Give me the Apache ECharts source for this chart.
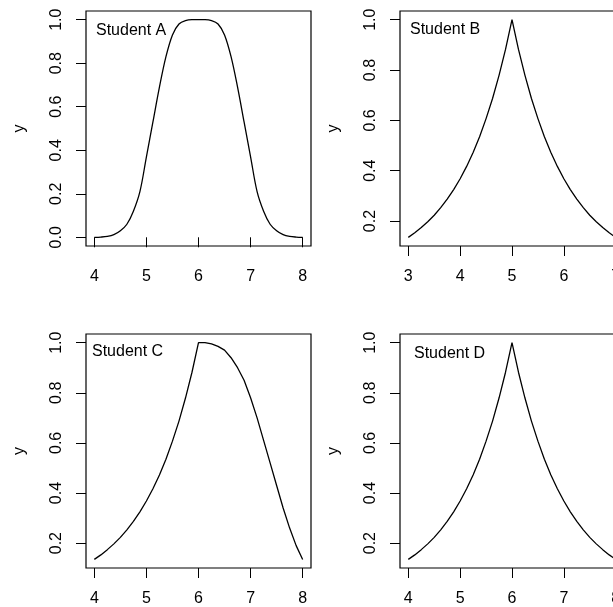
<!DOCTYPE html>
<html>
<head>
<meta charset="utf-8">
<script src="https://cdn.jsdelivr.net/npm/echarts@6/dist/echarts.min.js"></script>
<style>
  html, body { margin: 0; padding: 0; background: #fff; }
  #chart { width: 613px; height: 607px; }
</style>
</head>
<body>
<div id="chart"></div>
<script>
// sample positions
var xs48 = [4, 4.125, 4.25, 4.375, 4.5, 4.625, 4.75, 4.875, 5, 5.125, 5.25, 5.375, 5.5, 5.625, 5.75, 5.875,
  6, 6.125, 6.25, 6.375, 6.5, 6.625, 6.75, 6.875, 7, 7.125, 7.25, 7.375, 7.5, 7.625, 7.75, 7.875, 8]
var xs37 = [3, 3.125, 3.25, 3.375, 3.5, 3.625, 3.75, 3.875, 4, 4.125, 4.25, 4.375, 4.5, 4.625, 4.75, 4.875,
  5, 5.125, 5.25, 5.375, 5.5, 5.625, 5.75, 5.875, 6, 6.125, 6.25, 6.375, 6.5, 6.625, 6.75, 6.875, 7]

var studentA = [0, 0.001, 0.004, 0.012, 0.03, 0.06, 0.12, 0.21, 0.37, 0.53, 0.69, 0.83, 0.93, 0.98, 0.996, 1.0,
  1.0, 1.0, 0.996, 0.98, 0.93, 0.83, 0.69, 0.53, 0.37, 0.21, 0.12, 0.06, 0.03, 0.012, 0.004, 0.001, 0]
var studentB = [0.135, 0.153, 0.174, 0.197, 0.223, 0.253, 0.287, 0.325, 0.368, 0.417, 0.472, 0.535, 0.607, 0.687, 0.779, 0.882,
  1.0, 0.882, 0.779, 0.687, 0.607, 0.535, 0.472, 0.417, 0.368, 0.325, 0.287, 0.253, 0.223, 0.197, 0.174, 0.153, 0.135]
var studentC = [0.135, 0.153, 0.174, 0.197, 0.223, 0.253, 0.287, 0.325, 0.368, 0.417, 0.472, 0.535, 0.607, 0.687, 0.779, 0.882,
  1.0, 1.0, 0.995, 0.985, 0.97, 0.94, 0.9, 0.85, 0.78, 0.7, 0.61, 0.52, 0.43, 0.34, 0.26, 0.19, 0.135]
var studentD = [0.135, 0.153, 0.174, 0.197, 0.223, 0.253, 0.287, 0.325, 0.368, 0.417, 0.472, 0.535, 0.607, 0.687, 0.779, 0.882,
  1.0, 0.882, 0.779, 0.687, 0.607, 0.535, 0.472, 0.417, 0.368, 0.325, 0.287, 0.253, 0.223, 0.197, 0.174, 0.153, 0.135]

var ticks48 = [4, 5, 6, 7, 8]
var ticks37 = [3, 4, 5, 6, 7]
var yTicksA = [0, 0.2, 0.4, 0.6, 0.8, 1.0]
var yTicks = [0.2, 0.4, 0.6, 0.8, 1.0]
var names = ['Student A', 'Student B', 'Student C', 'Student D']

var font = 'Liberation Sans, Arial, sans-serif'

function pairs (xs, ys) {
  return xs.map(function (x, i) { return [x, ys[i]] })
}

function xAxisOf (idx, min, max, ticks) {
  return {
    type: 'value',
    gridIndex: idx,
    min: min,
    max: max,
    axisLine: { show: false },
    splitLine: { show: false },
    axisTick: { show: true, length: 10, customValues: ticks, lineStyle: { color: '#000' } },
    axisLabel: {
      customValues: ticks,
      margin: 23,
      color: '#000',
      fontSize: 16,
      fontFamily: font
    }
  }
}

function yAxisOf (idx, min, max, ticks) {
  return {
    type: 'value',
    gridIndex: idx,
    min: min,
    max: max,
    name: 'y',
    nameLocation: 'middle',
    nameRotate: 90,
    nameGap: 58,
    nameTextStyle: { color: '#000', fontSize: 16, fontFamily: font },
    axisLine: { show: false },
    splitLine: { show: false },
    axisTick: { show: true, length: 10, customValues: ticks, lineStyle: { color: '#000' } },
    axisLabel: {
      customValues: ticks,
      rotate: 90,
      margin: 21,
      color: '#000',
      fontSize: 16,
      fontFamily: font,
      formatter: function (v) { return v.toFixed(1) }
    }
  }
}

function lineOf (idx, data, smooth) {
  return {
    type: 'line',
    xAxisIndex: idx,
    yAxisIndex: idx,
    data: data,
    smooth: smooth || false,
    showSymbol: false,
    silent: true,
    lineStyle: { color: '#000', width: 1.3 }
  }
}

var box = {
  show: true,
  borderColor: '#000',
  borderWidth: 1.2,
  backgroundColor: 'transparent',
  outerBoundsMode: 'none',
  containLabel: false
}

var chart = echarts.init(document.getElementById('chart'), null, { renderer: 'canvas' })
chart.setOption({
  animation: false,
  backgroundColor: '#fff',
  title: [
    { text: names[0], left: 96, top: 23 },
    { text: names[1], left: 410, top: 22 },
    { text: names[2], left: 92, top: 344 },
    { text: names[3], left: 414, top: 346 }
  ].map(function (t) {
    t.padding = 0
    t.textStyle = { color: '#000', fontSize: 16, fontWeight: 'normal', fontFamily: font }
    return t
  }),
  grid: [
    Object.assign({ left: 86, top: 11, width: 225, height: 235 }, box),
    Object.assign({ left: 400, top: 11, width: 224, height: 235 }, box),
    Object.assign({ left: 86, top: 334, width: 225, height: 234 }, box),
    Object.assign({ left: 400, top: 334, width: 224, height: 234 }, box)
  ],
  xAxis: [
    xAxisOf(0, 3.84, 8.16, ticks48),
    xAxisOf(1, 2.84, 7.16, ticks37),
    xAxisOf(2, 3.84, 8.16, ticks48),
    xAxisOf(3, 3.84, 8.16, ticks48)
  ],
  yAxis: [
    yAxisOf(0, -0.04, 1.04, yTicksA),
    yAxisOf(1, 0.1007, 1.0346, yTicks),
    yAxisOf(2, 0.1007, 1.0346, yTicks),
    yAxisOf(3, 0.1007, 1.0346, yTicks)
  ],
  series: [
    lineOf(0, pairs(xs48, studentA), 0.35),
    lineOf(1, pairs(xs37, studentB)),
    lineOf(2, pairs(xs48, studentC)),
    lineOf(3, pairs(xs48, studentD))
  ]
})
</script>
</body>
</html>
